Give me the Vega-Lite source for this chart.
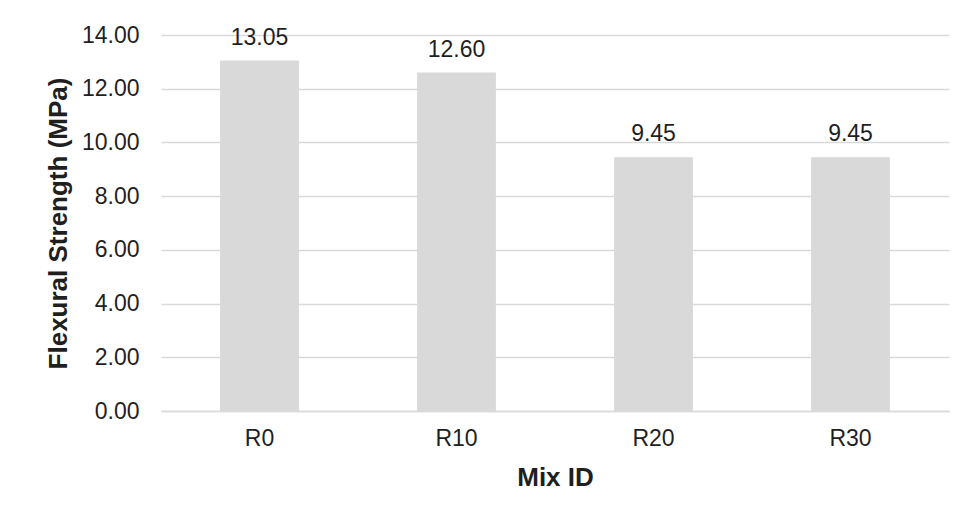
{
  "$schema": "https://vega.github.io/schema/vega-lite/v6.json",
  "width": 788,
  "height": 376,
  "autosize": {"type": "none"},
  "padding": {"left": 161, "top": 35, "right": 17, "bottom": 109},
  "background": "#ffffff",
  "config": {
    "font": "Liberation Sans",
    "view": {"stroke": null},
    "axis": {
      "labelFont": "Liberation Sans",
      "titleFont": "Liberation Sans",
      "labelColor": "#1f1f1f",
      "titleColor": "#1f1f1f",
      "labelFontSize": 23,
      "titleFontSize": 26,
      "titleFontWeight": "bold",
      "ticks": false
    }
  },
  "data": {
    "values": [
      {"mix": "R0", "strength": 13.05},
      {"mix": "R10", "strength": 12.60},
      {"mix": "R20", "strength": 9.45},
      {"mix": "R30", "strength": 9.45}
    ]
  },
  "encoding": {
    "x": {
      "field": "mix",
      "type": "nominal",
      "sort": null,
      "title": "Mix ID",
      "scale": {"paddingInner": 0.6, "paddingOuter": 0.3},
      "axis": {
        "labelAngle": 0,
        "labelPadding": 16,
        "titlePadding": 14,
        "domain": true,
        "domainColor": "#d9d9d9",
        "domainWidth": 1.5,
        "grid": false
      }
    },
    "y": {
      "field": "strength",
      "type": "quantitative",
      "title": "Flexural Strength (MPa)",
      "scale": {"domain": [0, 14], "nice": false},
      "axis": {
        "values": [0, 2, 4, 6, 8, 10, 12, 14],
        "format": ".2f",
        "domain": false,
        "grid": true,
        "gridColor": "#d9d9d9",
        "gridWidth": 1.3,
        "labelPadding": 22,
        "titlePadding": 10
      }
    }
  },
  "layer": [
    {
      "mark": {"type": "bar", "color": "#d9d9d9"}
    },
    {
      "mark": {
        "type": "text",
        "baseline": "alphabetic",
        "dy": -16,
        "fontSize": 23,
        "color": "#1f1f1f",
        "font": "Liberation Sans"
      },
      "encoding": {
        "text": {"field": "strength", "type": "quantitative", "format": ".2f"}
      }
    }
  ]
}
